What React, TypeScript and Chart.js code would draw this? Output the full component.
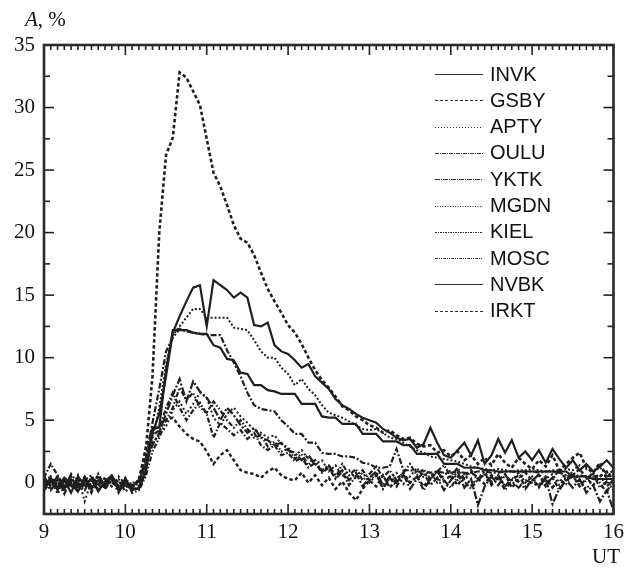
import React, { useEffect, useRef } from 'react';
import { Chart, registerables } from 'chart.js';

Chart.register(...registerables);

// Minutes after 09:00 UT, 5-minute sampling
const MINUTES = [
  0, 5, 10, 15, 20, 25, 30, 35, 40, 45, 50, 55,
  60, 65, 70, 75, 80, 85, 90, 95, 100, 105, 110, 115,
  120, 125, 130, 135, 140, 145, 150, 155, 160, 165, 170, 175,
  180, 185, 190, 195, 200, 205, 210, 215, 220, 225, 230, 235,
  240, 245, 250, 255, 260, 265, 270, 275, 280, 285, 290, 295,
  300, 305, 310, 315, 320, 325, 330, 335, 340, 345, 350, 355,
  360, 365, 370, 375, 380, 385, 390, 395, 400, 405, 410, 415,
  420,
];

const X_TICKS = [9, 10, 11, 12, 13, 14, 15, 16];
const Y_TICKS = [0, 5, 10, 15, 20, 25, 30, 35];
const Y_MINOR_TICKS = [2.5, 7.5, 12.5, 17.5, 22.5, 27.5, 32.5];

const STATIONS = ['INVK', 'GSBY', 'APTY', 'OULU', 'YKTK', 'MGDN', 'KIEL', 'MOSC', 'NVBK', 'IRKT'];

const INVK = [
  -0.3, 0.4, -0.6, 0.2, -0.8, 0.5, -0.2, 0.3, -0.7, 0.1, 0.6, -0.4,
  0.2, -0.6, -0.4, 1.0, 4.0, 5.5, 8.5, 12.0, 13.3, 14.5, 15.6, 15.8,
  12.5, 16.2, 15.8, 15.4, 14.8, 15.2, 14.8, 12.6, 12.5, 12.8, 11.0, 10.5,
  10.3, 9.8, 9.2, 9.5, 8.5, 8.0, 7.5, 6.7, 6.2, 5.9, 5.5, 5.2,
  5.0, 4.8, 4.3, 4.0, 3.6, 3.4, 3.5, 2.8, 3.1, 4.4, 3.2, 2.2,
  2.0, 2.6, 3.2, 2.2, 3.4, 1.5, 2.2, 3.5, 2.4, 3.4, 2.0, 2.5,
  1.8, 2.6, 1.6, 2.7, 1.9, 1.2, 1.8, 1.0, 1.5, 0.9, 1.3, 1.8,
  1.2,
];

const GSBY = [
  0.3, -0.2, 0.5, -0.4, 0.2, -0.6, 0.4, -0.3, 0.6, -0.2, 0.3, -0.5,
  0.1, -0.3, 0.2, 2.5, 8.5, 20.0, 26.2, 27.6, 32.8, 32.4, 31.3, 30.2,
  27.5, 24.8, 23.7, 22.2, 20.6, 19.5, 19.2, 18.2, 16.8, 15.5, 14.5, 13.6,
  12.6, 12.0, 11.1, 10.0, 9.0, 8.2, 7.6, 6.9, 6.1, 5.8, 5.3, 5.0,
  4.6, 4.4, 4.0, 4.2, 3.8, 3.5, 3.6, 3.1, 2.9, 3.0, 2.4, 2.6,
  2.1, 2.5, 1.8, 2.2, 1.5, 2.0, 1.4, 2.3, 1.6, 1.2, 2.0, 1.5,
  1.1, 1.8, 1.3, 2.2, 1.0, 1.5, 2.0, 2.4, 1.2, 0.8, 1.6, 0.4,
  1.0,
];

const APTY = [
  0.1, -0.4, 0.3, -0.2, 0.5, -0.5, 0.2, 0.6, -0.3, 0.4, -0.1, 0.3,
  -0.4, 0.0, 0.1, 1.5, 3.5, 6.0, 9.5, 11.8, 12.5, 13.2, 13.9, 13.9,
  13.2, 13.2, 13.2, 13.2, 12.4, 12.3, 12.2, 11.4, 10.5, 10.0, 10.0, 9.2,
  8.7, 7.8, 8.3, 7.5, 7.0, 6.2, 5.6, 5.4, 5.2, 4.9, 4.6, 4.3,
  4.2, 4.3, 4.0, 3.6, 3.5, 3.2, 2.9, 2.6, 2.4, 2.1, 2.0, 1.9,
  1.8, 1.7, 1.5, 1.3, 1.2, 1.1, 1.0, 1.1, 1.0, 0.9, 1.0, 1.0,
  1.1, 1.0, 0.9, 1.0, 1.0, 1.1, 1.0, 1.4, 1.1, 0.9, 1.2, 0.8,
  0.9,
];

const OULU = [
  0.2, -0.6, 0.1, -0.9, 0.3, -0.2, 0.5, -0.5, -0.1, 0.4, -0.3, 0.2,
  -0.7, -0.3, 0.0, 1.8, 4.8, 7.5, 10.5, 11.6, 12.3, 12.1, 12.0, 11.9,
  11.8, 11.8, 11.8, 10.6, 9.6, 8.5, 7.2, 6.2, 5.9, 5.8, 5.7, 5.0,
  4.5, 3.9, 3.9, 3.2, 3.2, 2.4, 2.3, 2.3, 2.1, 2.1, 2.0, 1.6,
  1.5, 1.2, 1.2, 1.3, 2.7, 1.0, 1.0, 0.9, 0.9, 0.8, 0.9, 0.8,
  0.8, 0.9, 0.8, 0.8, 0.9, 0.9, 0.8, 0.8, 0.9, 0.9, 0.8, 0.9,
  0.9, 0.8, 0.9, 0.9, 0.8, 0.6, 0.5, 0.6, 0.5, 0.5, 0.6, 0.5,
  0.6,
];

const YKTK = [
  0.5, -0.3, 0.2, -0.5, 0.7, -0.1, -0.6, 0.4, 0.0, -0.4, 0.3, -0.8,
  0.2, -0.4, 0.3, 1.5, 3.0, 4.0, 5.5, 7.0, 8.3, 6.5, 8.1, 7.3,
  6.8, 6.0, 5.0, 6.0, 5.4, 4.6, 4.0, 4.4, 3.6, 3.4, 3.0, 3.2,
  2.6, 2.4, 1.8, 2.2, 1.5, 1.0, 1.4, 0.6, 1.0, 0.2, 0.8, -0.3,
  0.4, 0.9, -0.2, 0.5, 0.0, 0.7, -0.5, 0.3, 0.8, -0.2, 0.4, -0.6,
  0.2, 0.9, -0.4, 0.3, -1.8, -0.3, 0.5, -0.2, 0.6, 0.1, -0.4, 0.2,
  0.0, -0.3, 0.4, -1.7, -0.5, 0.2, -0.4, 0.3, -0.8, -0.2, -1.5, -0.6,
  -2.2,
];

const MGDN = [
  -0.2, 0.3, -0.9, 0.1, -0.4, 0.6, -1.5, 0.2, -0.5, 0.3, -0.3, 0.5,
  -0.1, -0.6, -0.2, 1.2, 3.2, 3.8, 4.5, 5.8, 6.5, 5.5, 6.3, 7.2,
  6.8, 5.2, 4.6, 5.5, 6.0, 5.3, 4.8, 4.2, 4.0, 3.6, 3.8, 3.1,
  2.8, 2.2, 2.6, 1.9, 1.5, 1.8, 0.9, 1.4, 0.5, 1.0, 0.3, 0.8,
  0.0, 0.6, -0.4, 0.3, 0.8, -0.1, 0.5, 1.2, 0.4, 0.9, 0.0, 0.6,
  1.0, 0.2, 0.7, -0.2, 0.4, 0.9, 0.1, 0.6, -0.3, 0.2, 0.8, 0.0,
  0.5, -0.4, 0.3, 0.7, -0.2, 0.4, 0.9, 0.1, -0.5, 0.3, 0.6, -0.3,
  0.2,
];

const KIEL = [
  0.4, 1.5, 0.6, -0.3, 0.0, -0.5, 0.3, -0.8, 0.5, -0.1, 0.1, -0.4,
  0.3, -0.2, 0.0, 2.0, 3.8, 4.2, 6.0, 7.2, 6.0, 5.0, 5.8, 6.4,
  5.5, 3.6, 4.8, 4.3, 3.8, 4.2, 3.5, 4.0, 3.0, 2.6, 3.0, 2.2,
  2.4, 1.7, 2.0, 1.2, 1.6, 0.8, 1.2, 0.3, 0.9, -0.2, 0.5, 1.0,
  0.2, 0.7, -0.5, 0.4, -0.3, 0.6, 0.0, 0.5, -0.6, 0.3, 0.9, 0.2,
  -0.4, 0.5, 0.1, -0.5, 0.3, 0.8, -0.2, 0.4, -0.6, 0.2, 0.6, -0.3,
  0.1, 0.7, -0.1, 0.4, -0.6, 0.2, 0.5, -0.2, 0.3, 0.8, 0.0, -0.8,
  0.4,
];

const MOSC = [
  -0.6, 0.0, 0.4, -0.7, 0.3, -0.3, 0.1, -0.6, 0.7, -0.5, 0.2, -0.2,
  0.4, -0.8, -0.6, 0.5, 2.5, 3.6, 5.0, 6.0, 7.6, 6.6, 7.2, 6.0,
  5.6, 6.5, 5.8, 5.0, 4.4, 5.0, 4.3, 3.6, 3.8, 2.9, 3.3, 2.5,
  2.7, 1.9, 2.3, 1.4, 1.8, 0.9, 1.3, 0.4, 1.5, 0.6, 1.1, 0.2,
  0.7, 1.3, 0.4, 1.0, 0.2, 0.8, 1.5, 0.6, 1.1, 0.3, 0.9, 1.4,
  0.5, 1.2, 0.3, 0.9, 0.2, 0.7, 0.0, 0.6, -0.3, 0.4, 0.1, -0.5,
  0.2, -0.2, 0.5, -0.4, 0.3, -0.1, 0.6, -0.3, 0.2, 0.7, -0.4, 0.1,
  -0.6,
];

const NVBK = [
  -0.5, 0.2, -0.3, 0.4, -0.1, -0.7, 0.3, -0.4, 0.2, -0.2, 0.5, -0.6,
  -0.2, -0.5, -0.5, 0.8, 4.4, 4.4, 9.0, 12.2, 12.2, 12.2, 12.0, 11.9,
  11.9, 11.0, 10.8, 9.9, 9.8, 8.8, 8.7, 7.8, 7.8, 7.4, 7.3, 7.1,
  7.1, 7.1, 6.3, 6.3, 6.3, 5.3, 5.2, 5.2, 4.7, 4.7, 4.7, 3.9,
  3.9, 3.9, 3.3, 3.3, 3.3, 3.0, 3.0, 2.3, 2.3, 2.3, 2.3, 1.5,
  1.5, 1.5, 1.2, 1.2, 1.2, 1.0, 1.0, 0.9, 0.9, 0.9, 0.9, 0.9,
  0.9, 0.9, 0.9, 0.9, 0.9, 0.9, 0.5, 0.5, 0.5, 0.3, 0.3, 0.3,
  0.3,
];

const IRKT = [
  0.0, 0.5, -0.5, 0.3, -0.3, 0.2, -0.4, 0.4, -0.6, 0.0, 0.5, -0.3,
  0.0, -0.4, 0.2, 2.8, 4.2, 4.5, 5.0, 5.2, 4.5, 3.9, 3.5, 3.3,
  2.5, 1.5, 2.2, 2.6, 1.8, 1.0, 0.8, 0.7, 0.4, 0.9, 1.2, 0.6,
  0.3, 0.2, 0.8, 0.0, 0.6, -0.2, 0.4, -0.5, 0.1, -0.8, -1.4, -0.5,
  0.2, -0.3, 0.6, -0.4, 0.3, 0.8, 0.0, 0.5, -0.3, 0.4, 0.9, 0.1,
  0.6, -0.2, 0.5, 1.0, 0.3, -0.1, 0.6, 0.2, 0.7, -0.4, 0.3, 0.8,
  0.2, 0.6, -0.3, 0.4, 1.0, 0.3, 0.6, 1.1, 0.4, -0.2, 0.5, 0.9,
  0.2,
];

const SERIES = [INVK, GSBY, APTY, OULU, YKTK, MGDN, KIEL, MOSC, NVBK, IRKT];

// styles
const LINE_COLOR = '#1f1f1f';
const PLOT_DASH: number[][] = [
  [], [3.5, 2.5], [2, 2], [6, 2, 2, 2], [8, 2, 2, 2], [2, 2.5], [5, 2, 1.5, 2], [5, 2, 1.5, 2, 1.5, 2], [], [3.5, 2.5],
];
const PLOT_WIDTH = [2.2, 2.6, 2.0, 2.2, 2.2, 2.0, 2.2, 2.2, 2.2, 2.4];
const LEGEND_DASH: number[][] = [
  [], [3, 2], [1, 2], [4, 1, 1, 1], [5, 1, 1, 1], [1, 1.5], [2, 1, 1, 1], [3, 1, 1, 1, 1, 1], [], [3, 2],
];

const SERIF = '"Liberation Serif", "Times New Roman", serif';
const SANS = '"Liberation Sans", Arial, sans-serif';

const framePlugin = {
  id: 'framePlugin',
  afterDatasetsDraw(chart: any) {
    const { ctx, chartArea, scales } = chart;
    const { left, right, top, bottom } = chartArea;
    const xs = scales.x;
    const ys = scales.y;
    ctx.save();
    ctx.setLineDash([]);
    ctx.strokeStyle = '#222';
    ctx.lineWidth = 1.6;
    const seg = (x1: number, y1: number, x2: number, y2: number) => {
      ctx.beginPath();
      ctx.moveTo(x1, y1);
      ctx.lineTo(x2, y2);
      ctx.stroke();
    };
    // x ticks (every 5 min), on bottom and top, pointing inward
    MINUTES.forEach((m) => {
      const px = xs.getPixelForValue(9 + m / 60);
      const len = m % 60 === 0 ? 10 : 5;
      seg(px, bottom, px, bottom - len);
      seg(px, top, px, top + len);
    });
    Y_TICKS.forEach((v) => {
      const py = ys.getPixelForValue(v);
      seg(left, py, left + 10, py);
      seg(right, py, right - 10, py);
    });
    Y_MINOR_TICKS.forEach((v) => {
      const py = ys.getPixelForValue(v);
      seg(left, py, left + 6, py);
      seg(right, py, right - 6, py);
    });
    // frame
    ctx.lineWidth = 2.6;
    ctx.strokeStyle = '#2a2a2a';
    ctx.strokeRect(left, top, right - left, bottom - top);

    // axis titles
    ctx.fillStyle = '#111';
    ctx.textBaseline = 'alphabetic';
    ctx.textAlign = 'left';
    ctx.font = `italic 21px ${SERIF}`;
    ctx.fillText('A', 25, 26);
    const aw = ctx.measureText('A').width;
    ctx.font = `21px ${SERIF}`;
    ctx.fillText(', %', 25 + aw, 26);
    ctx.textAlign = 'right';
    ctx.fillText('UT', 620, 563);

    // legend
    ctx.font = `20px ${SANS}`;
    ctx.textAlign = 'left';
    ctx.textBaseline = 'middle';
    STATIONS.forEach((name, k) => {
      const yy = 74 + k * 26.3;
      ctx.strokeStyle = '#333';
      ctx.lineWidth = 1;
      ctx.setLineDash(LEGEND_DASH[k]);
      seg(435, Math.round(yy) + 0.5, 483, Math.round(yy) + 0.5);
      ctx.setLineDash([]);
      ctx.fillStyle = '#111';
      ctx.fillText(name, 490, yy + 1);
    });
    ctx.restore();
  },
};

export default function App() {
  const ref = useRef<HTMLCanvasElement>(null);

  useEffect(() => {
    const canvas = ref.current;
    if (!canvas) return;
    const datasets = STATIONS.map((name, k) => ({
      label: name,
      data: MINUTES.map((m, i) => ({ x: 9 + m / 60, y: SERIES[k][i] })),
      borderColor: LINE_COLOR,
      borderWidth: PLOT_WIDTH[k],
      borderDash: PLOT_DASH[k],
      pointRadius: 0,
      fill: false,
      tension: 0,
    }));
    const chart = new Chart(canvas, {
      type: 'line',
      data: { datasets },
      options: {
        animation: false,
        responsive: false,
        devicePixelRatio: 1,
        layout: { padding: { left: 0, right: 10, top: 45, bottom: 0 } },
        plugins: { legend: { display: false }, tooltip: { enabled: false } },
        scales: {
          x: {
            type: 'linear',
            min: 9,
            max: 16,
            grid: { display: false, drawTicks: false },
            border: { display: false },
            afterBuildTicks: (s: any) => {
              s.ticks = X_TICKS.map((v) => ({ value: v }));
            },
            afterFit: (s: any) => {
              s.height = 56;
            },
            ticks: {
              autoSkip: false,
              maxRotation: 0,
              padding: 6,
              color: '#111',
              font: { family: SERIF, size: 21 },
              callback: (v: any) => String(v),
            },
          },
          y: {
            type: 'linear',
            min: -2.5,
            max: 35,
            grid: { display: false, drawTicks: false },
            border: { display: false },
            afterBuildTicks: (s: any) => {
              s.ticks = Y_TICKS.map((v) => ({ value: v }));
            },
            afterFit: (s: any) => {
              s.width = 44;
            },
            ticks: {
              autoSkip: false,
              padding: 9,
              color: '#111',
              font: { family: SERIF, size: 21 },
              callback: (v: any) => String(v),
            },
          },
        },
      },
      plugins: [framePlugin],
    } as any);
    return () => chart.destroy();
  }, []);

  return (
    <div style={{ position: 'absolute', left: 0, top: 0, width: 630, height: 570, background: '#fff' }}>
      <canvas ref={ref} width={630} height={570} style={{ display: 'block' }} />
    </div>
  );
}
